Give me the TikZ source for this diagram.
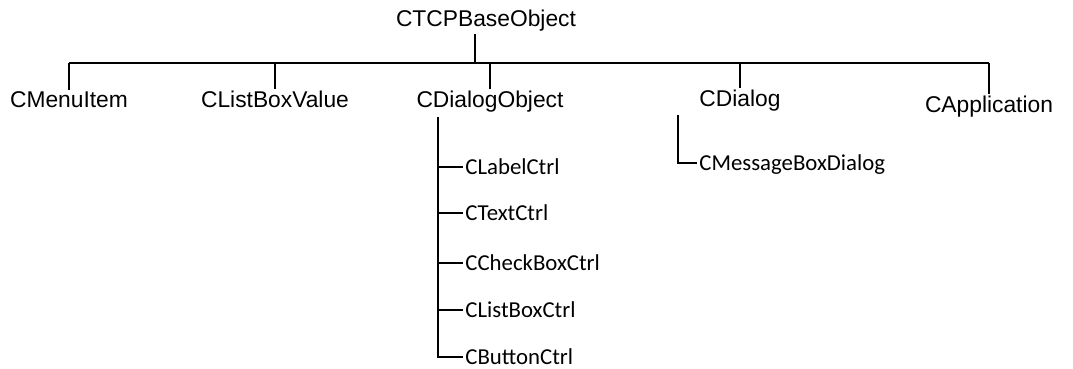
\documentclass[tikz,border=0pt]{standalone}
\usepackage{fontspec}
\setmainfont{Liberation Sans}
\newfontfamily\leaffont{Carlito}
\usepackage{tikz}
\usetikzlibrary{positioning}
\usetikzlibrary{calc}
\tikzstyle{cls}=[font=\fontsize{11.4}{14}\selectfont,inner sep=1pt,anchor=base]
\tikzstyle{leaf}=[font=\leaffont\fontsize{11.4}{14}\selectfont,inner sep=1pt,anchor=west,text depth=0pt]
\tikzstyle{tree} = [draw,line width=1.4pt]
\begin{document}
\begin{tikzpicture}[x=0.5pt,y=-0.5pt]
    \useasboundingbox (0,0) rectangle (1073,369);
    % First we draw the classes
    \node[cls] (base) at (486,27) {CTCPBaseObject};

    \foreach \pos/\name/\label in {{(69,108)/menu/CMenuItem}, {(275,108)/lbv/CListBoxValue}, {(490,108)/dobj/CDialogObject}, {(740,107)/dlg/CDialog}, {(989,113)/app/CApplication}}
        \node[cls] (\name) at \pos {\label};

    \foreach \pos/\name/\label in {{(463,167)/lctrl/CLabelCtrl}, {(463,213)/tctrl/CTextCtrl}, {(463,263)/cctrl/CCheckBoxCtrl}, {(463,310)/lbctrl/CListBoxCtrl}, {(463,357)/bctrl/CButtonCtrl}, {(697,163)/mbox/CMessageBoxDialog}}
        \node[leaf] (\name) at \pos {\label};

    % Then the connectors
    \coordinate (root) at (475,63);
    \coordinate (dtrunk) at (438,117);
    \coordinate (mtrunk) at (678,115);

    \path[tree] (root |- base.south) -- (root);
    \path[tree] (menu.north |- root) -- (app.north |- root);
    \foreach \name in {menu, lbv, dobj, dlg, app}
        \path[tree] (\name.north) -- (\name.north |- root);

    \path[tree] (dtrunk) |- (bctrl.west);
    \foreach \name in {lctrl, tctrl, cctrl, lbctrl}
        \path[tree] (dtrunk |- \name.west) -- (\name.west);
    \path[tree] (mtrunk) |- (mbox.west);
\end{tikzpicture}
\end{document}
